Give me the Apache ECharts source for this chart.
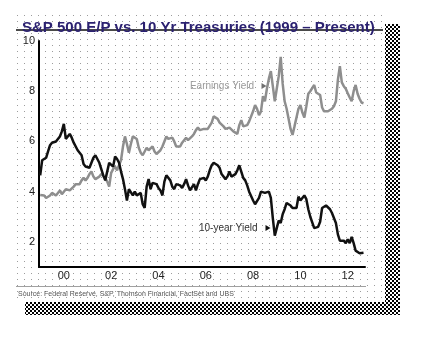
<!DOCTYPE html>
<html><head><meta charset="utf-8">
<script src="https://cdn.jsdelivr.net/npm/echarts@6/dist/echarts.min.js"></script>
<style>html,body{margin:0;padding:0;background:#fff}#c{width:421px;height:338px}</style>
</head><body><div id="c"></div>
<script>
const titleText = 'S&P 500 E/P vs. 10 Yr Treasuries (1999 \u2013 Present)';
const sourceText = 'Source: Federal Reserve, S&P, Thomson Financial, FactSet and UBS';
const seriesNames = ['Earnings Yield', '10-year Yield'];
const startYear = 1999;
const xTickYears = [2000, 2002, 2004, 2006, 2008, 2010, 2012];
const yTickValues = [2, 4, 6, 8, 10];

// monthly, Jan 1999 .. Sep 2012
const tenYearYield = [
  4.65, 5.25, 5.30, 5.35, 5.60, 5.85, 5.95, 5.95, 6.00, 6.00, 6.20, 6.40,
  6.70, 6.10, 6.20, 6.30, 6.15, 5.95, 5.90, 5.65, 5.55, 5.45, 5.10, 5.00,
  5.00, 4.95, 5.00, 5.35, 5.45, 5.40, 5.15, 4.90, 4.65, 4.45, 4.40, 5.15,
  5.10, 5.00, 5.40, 5.30, 5.15, 4.80, 4.50, 4.10, 3.65, 4.10, 4.05, 3.85,
  4.00, 3.85, 3.80, 3.95, 3.50, 3.35, 4.20, 4.50, 4.10, 4.35, 4.30, 4.30,
  4.15, 4.05, 3.85, 4.40, 4.65, 4.60, 4.45, 4.20, 4.10, 4.30, 4.25, 4.25,
  4.15, 4.30, 4.50, 4.25, 4.05, 4.10, 4.30, 4.05, 4.30, 4.50, 4.45, 4.55,
  4.45, 4.60, 4.85, 5.05, 5.15, 5.20, 5.05, 4.95, 4.70, 4.65, 4.50, 4.60,
  4.80, 4.60, 4.65, 4.70, 4.85, 5.05, 4.80, 4.55, 4.45, 4.25, 4.00, 4.05,
  3.65, 3.50, 3.45, 3.75, 4.00, 4.00, 3.95, 3.90, 4.00, 3.75, 2.95, 2.25,
  2.55, 2.85, 2.75, 3.10, 3.30, 3.55, 3.50, 3.45, 3.35, 3.40, 3.35, 3.80,
  3.65, 3.60, 3.85, 3.70, 3.30, 3.00, 2.95, 2.55, 2.55, 2.60, 2.80, 3.35,
  3.40, 3.45, 3.45, 3.30, 3.15, 3.15, 2.75, 2.30, 2.05, 2.10, 2.05, 1.95,
  2.10, 1.95, 2.20, 1.95, 1.65, 1.65, 1.55, 1.60, 1.57
];
const earningsYield = [
  3.87, 3.80, 3.85, 3.75, 3.70, 3.85, 3.95, 4.00, 3.85, 3.90, 4.05, 3.90,
  3.95, 4.10, 4.17, 4.05, 4.10, 4.20, 4.30, 4.25, 4.30, 4.45, 4.55, 4.45,
  4.55, 4.70, 4.80, 4.60, 4.50, 4.55, 4.60, 4.70, 4.75, 4.55, 4.40, 4.20,
  4.75, 4.90, 5.00, 4.85, 4.80, 5.25, 5.80, 6.20, 5.90, 5.55, 5.90, 6.20,
  6.25, 6.10, 5.75, 5.55, 5.45, 5.60, 5.75, 5.65, 5.70, 5.80, 5.60, 5.50,
  5.50, 5.65, 5.80, 6.00, 6.20, 6.10, 6.05, 6.15, 6.00, 5.80, 5.75, 5.80,
  5.95, 6.05, 6.15, 6.05, 6.10, 6.20, 6.30, 6.45, 6.55, 6.45, 6.40, 6.50,
  6.45, 6.50, 6.45, 6.75, 7.00, 7.05, 6.90, 6.75, 6.70, 6.60, 6.50, 6.45,
  6.55, 6.60, 6.40, 6.40, 6.30, 6.65, 6.85, 6.60, 6.60, 6.65, 6.80, 6.85,
  7.20, 7.45, 7.30, 7.05, 7.20, 7.80, 7.60, 8.10, 8.50, 8.80, 8.20, 7.60,
  8.10, 8.60, 9.37, 8.30, 7.60, 7.30, 6.90, 6.50, 6.26, 6.60, 6.65, 7.30,
  7.45, 7.15, 6.95, 7.40, 7.90, 8.00, 8.00, 8.25, 7.95, 7.90, 7.85, 7.35,
  7.20, 7.25, 7.20, 7.25, 7.30, 7.40, 7.60, 8.45, 9.00, 8.35, 8.20, 8.10,
  7.92, 7.75, 7.60, 8.00, 8.25, 7.90, 7.70, 7.55, 7.52
];
// label anchors (data space): [text start year, value, arrow year]
const earningsLabelAt = [2005.33, 8.21, 2008.46];
const tenYearLabelAt = [2005.71, 2.55, 2008.63];

const toPairs = arr => arr.map((v, i) => [startYear + i / 12, v]);

function makeDots() {
  const c = document.createElement('canvas'); c.width = 7; c.height = 6;
  const g = c.getContext('2d'); g.fillStyle = '#ffffff'; g.fillRect(0, 0, 7, 6);
  g.fillStyle = '#9c9c9c'; g.fillRect(3, 3, 1, 1);
  return c;
}
function makeChecker() {
  const c = document.createElement('canvas'); c.width = 4; c.height = 4;
  const g = c.getContext('2d'); g.fillStyle = '#fff'; g.fillRect(0, 0, 4, 4);
  g.fillStyle = '#000'; g.fillRect(0, 0, 2, 2); g.fillRect(2, 2, 2, 2);
  return c;
}
const dots = { image: makeDots(), repeat: 'repeat' };
const checker = { image: makeChecker(), repeat: 'repeat' };
const FONT = 'Liberation Sans, Arial, sans-serif';

function labelMark(at, text, textColor, arrowColor) {
  return {
    silent: true,
    data: [
      { coord: [at[0], at[1]], symbol: 'rect', symbolSize: 0,
        label: { show: true, position: 'right', distance: 0, formatter: text,
          fontFamily: FONT, fontSize: 10, color: textColor } },
      { coord: [at[2], at[1]], symbol: 'triangle', symbolSize: [6, 5], symbolRotate: -90,
        itemStyle: { color: arrowColor }, label: { show: false } }
    ]
  };
}

const chart = echarts.init(document.getElementById('c'), null, { renderer: 'canvas' });
chart.setOption({
  animation: false,
  backgroundColor: '#fff',
  title: {
    text: titleText, left: 17, top: 15,
    textStyle: { fontFamily: FONT, fontSize: 15, fontWeight: 'bold', color: '#2b2170' }
  },
  graphic: [
    { type: 'rect', z: 0, silent: true, shape: { x: 385, y: 24, width: 15, height: 291 }, style: { fill: checker } },
    { type: 'rect', z: 0, silent: true, shape: { x: 25, y: 302, width: 360, height: 13 }, style: { fill: checker } },
    { type: 'rect', z: 0, silent: true, shape: { x: 16, y: 10, width: 369, height: 292 }, style: { fill: dots } },
    { type: 'line', z: 1, silent: true, shape: { x1: 16, y1: 30, x2: 383, y2: 30 }, style: { stroke: '#4a4a4a', lineWidth: 2 } },
    { type: 'line', z: 1, silent: true, shape: { x1: 16, y1: 286.5, x2: 366, y2: 286.5 }, style: { stroke: '#a0a0a0', lineWidth: 1 } },
    { type: 'text', z: 1, silent: true, x: 18, y: 294, style: { text: sourceText, fontFamily: FONT, fontSize: 7, fill: '#555', verticalAlign: 'middle' } }
  ],
  grid: { left: 39, right: 56, top: 41, bottom: 71 },
  xAxis: {
    type: 'value', min: 1998.95, max: 2012.73,
    axisLine: { lineStyle: { color: '#000', width: 2 } },
    axisTick: { show: false },
    splitLine: { show: false },
    axisLabel: {
      customValues: xTickYears, margin: 3,
      fontFamily: FONT, fontSize: 11, color: '#222',
      formatter: v => String(Math.round(v) % 100).padStart(2, '0')
    }
  },
  yAxis: {
    type: 'value', min: 1, max: 10,
    axisLine: { show: true, lineStyle: { color: '#000', width: 2 } },
    axisTick: { show: false },
    splitLine: { show: false },
    axisLabel: { customValues: yTickValues, margin: 4, fontFamily: FONT, fontSize: 11, color: '#222' }
  },
  series: [
    {
      name: seriesNames[0], type: 'line', data: toPairs(earningsYield),
      showSymbol: false, symbol: 'none', smooth: false,
      lineStyle: { color: '#8e8e8e', width: 2.5 }, z: 3,
      markPoint: labelMark(earningsLabelAt, seriesNames[0], '#9a9a9a', '#707070')
    },
    {
      name: seriesNames[1], type: 'line', data: toPairs(tenYearYield),
      showSymbol: false, symbol: 'none', smooth: false,
      lineStyle: { color: '#111', width: 2.5 }, z: 4,
      markPoint: labelMark(tenYearLabelAt, seriesNames[1], '#333', '#111')
    }
  ]
});
</script>
</body></html>
